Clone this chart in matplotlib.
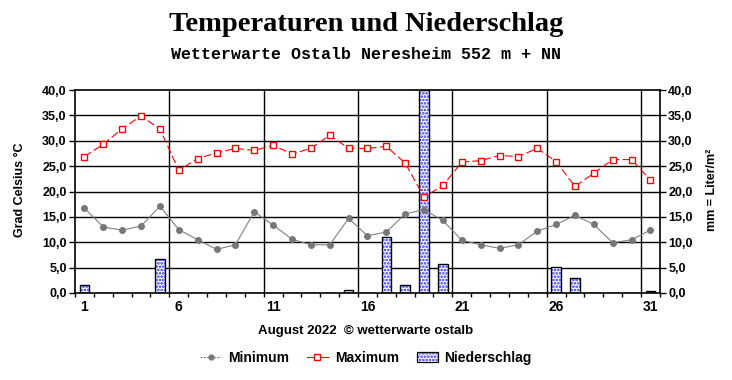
import matplotlib
matplotlib.use("Agg")
import matplotlib.pyplot as plt
from matplotlib.lines import Line2D
from matplotlib.patches import Patch
from matplotlib.legend_handler import HandlerTuple
from matplotlib.ticker import FuncFormatter, MultipleLocator

days = list(range(1, 32))
t_min = [16.7, 13.0, 12.4, 13.2, 17.1, 12.5, 10.5, 8.6, 9.5, 16.0,
         13.4, 10.6, 9.5, 9.5, 14.7, 11.3, 12.0, 15.6, 16.4, 14.3,
         10.4, 9.5, 8.8, 9.5, 12.2, 13.5, 15.3, 13.5, 9.9, 10.5, 12.4]
t_max = [26.9, 29.3, 32.4, 34.9, 32.3, 24.2, 26.5, 27.6, 28.5, 28.1,
         29.1, 27.4, 28.5, 31.1, 28.5, 28.5, 28.9, 25.6, 18.9, 21.2,
         25.8, 26.1, 27.1, 26.9, 28.5, 25.9, 21.0, 23.6, 26.3, 26.3, 22.2]
precip = [1.5, 0, 0, 0, 6.6, 0, 0, 0, 0, 0,
          0, 0, 0, 0, 0.5, 0, 11.0, 1.5, 40.0, 5.7,
          0, 0, 0, 0, 0, 5.1, 3.0, 0, 0, 0, 0.4]
xtick_days = [1, 6, 11, 16, 21, 26, 31]
yticks = [0, 5, 10, 15, 20, 25, 30, 35, 40]

plt.rcParams['font.family'] = ['Liberation Sans', 'DejaVu Sans']
plt.rcParams['hatch.linewidth'] = 1.3

fig = plt.figure(figsize=(7.32, 3.80), dpi=100)
ax = fig.add_axes([0.1025, 0.229, 0.799, 0.534])

ax.set_xlim(0.5, 31.5)
ax.set_ylim(0, 40)

# grid
for y in yticks[1:-1]:
    ax.axhline(y, color='black', lw=1.0, zorder=1)
for xg in [5.5, 10.5, 15.5, 20.5, 25.5, 30.5]:
    ax.axvline(xg, color='black', lw=1.0, zorder=1)

# precipitation bars
ax.bar(days, precip, width=0.5, facecolor='white', edgecolor='#2a2aff',
       hatch='.....', lw=0, zorder=2)
ax.bar(days, precip, width=0.5, facecolor='none', edgecolor='black',
       lw=1.0, zorder=3)

ax.plot(days, t_min, color='#808080', lw=0.8, marker='o', ms=4,
        mfc='#777777', mec='#777777', zorder=4)
ax.plot(days, t_max, color='red', lw=0.8, ls=(0, (7, 3)), marker='s', ms=4.5,
        mfc='white', mec='red', mew=1.0, zorder=5)

fmt = FuncFormatter(lambda v, p: f"{v:.1f}".replace('.', ','))
ax.set_yticks(yticks)
ax.yaxis.set_major_formatter(fmt)
ax.set_xticks(xtick_days)
ax.set_xticklabels([str(d) for d in xtick_days])
ax.xaxis.set_minor_locator(MultipleLocator(1, offset=0.5))
ax.tick_params(axis='x', which='major', length=0, pad=5, labelsize=10)
ax.tick_params(axis='x', which='minor', length=3, width=1, direction='out')
ax.tick_params(axis='y', which='major', length=4, width=1, direction='out',
               labelsize=9, pad=2, right=True, labelright=True)
for lab in ax.get_xticklabels() + ax.get_yticklabels():
    lab.set_fontweight('bold')
for t in ax.yaxis.get_major_ticks():
    t.label2.set_fontweight('bold')
for sp in ax.spines.values():
    sp.set_linewidth(1.2)

fig.text(0.028, 0.5, 'Grad Celsius °C', rotation=90, ha='center', va='center',
         fontsize=9, fontweight='bold')
fig.text(0.972, 0.5, 'mm = Liter/m²', rotation=90, ha='center', va='center',
         fontsize=9, fontweight='bold')

fig.text(0.5, 0.935, 'Temperaturen und Niederschlag', ha='center', va='center',
         fontsize=20.5, fontweight='bold', family='Liberation Serif')
fig.text(0.5, 0.857, 'Wetterwarte Ostalb Neresheim 552 m + NN', ha='center',
         va='center', fontsize=12, fontweight='bold', family='Liberation Mono')
fig.text(0.5, 0.13, 'August 2022  © wetterwarte ostalb', ha='center',
         va='center', fontsize=9.5, fontweight='bold')

h_min = Line2D([0], [0], color='#808080', lw=0.8, ls=(0, (2, 1)), marker='o',
               ms=3.5, mfc='#777777', mec='#777777')
h_max = Line2D([0], [0], color='red', lw=0.8, marker='s', ms=4, mfc='white',
               mec='red')
h_pr = (Patch(facecolor='white', edgecolor='#2a2aff', hatch='.....', lw=0),
        Patch(facecolor='none', edgecolor='black', lw=0.9))
leg = fig.legend([h_min, h_max, h_pr], ['Minimum', 'Maximum', 'Niederschlag'],
                 ncol=3, loc='center', bbox_to_anchor=(0.5, 0.058),
                 frameon=False, prop={'weight': 'bold', 'size': 10},
                 handlelength=1.5, columnspacing=1.3, handletextpad=0.5,
                 handler_map={tuple: HandlerTuple(ndivide=1, pad=0)})
fig.savefig('out.png', dpi=100, facecolor='white')
